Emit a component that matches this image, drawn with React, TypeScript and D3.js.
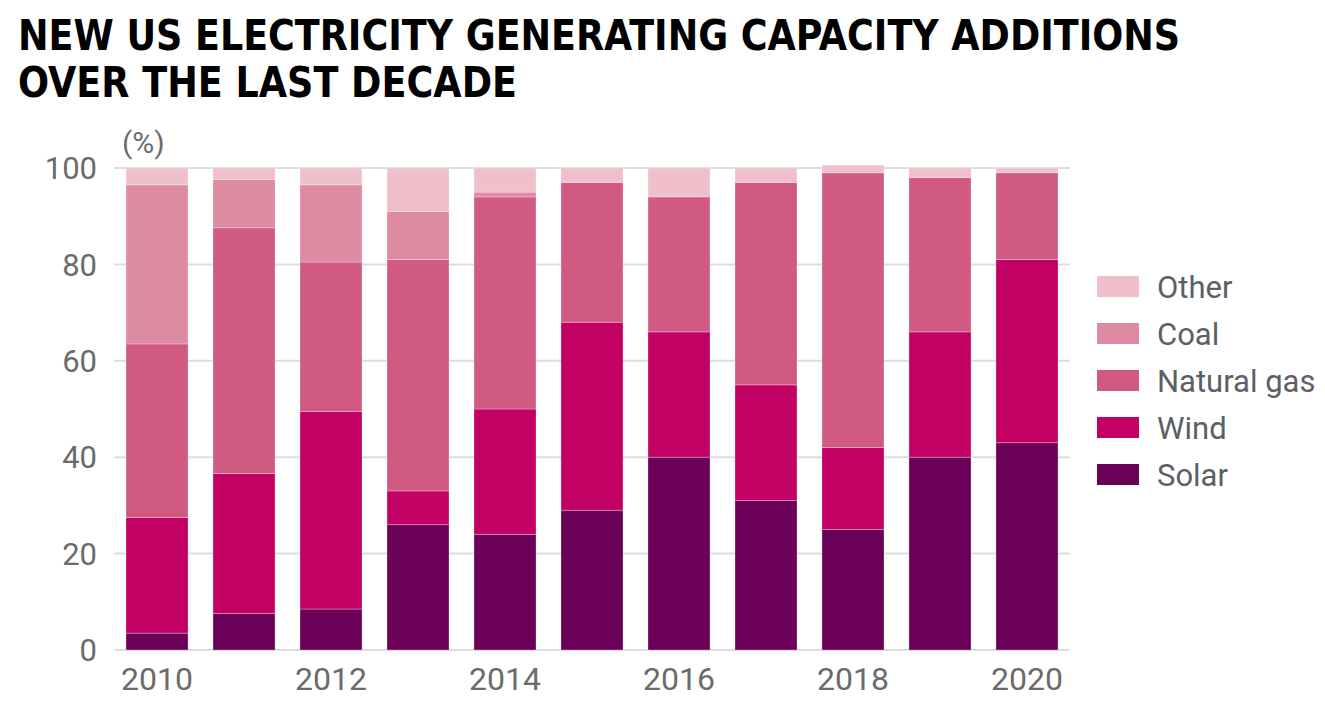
import React, { useEffect, useRef } from 'react';
import * as d3 from 'd3';

const years = ['2010', '2011', '2012', '2013', '2014', '2015', '2016', '2017', '2018', '2019', '2020'];
const solar = [3.5, 7.6, 8.5, 26, 24, 29, 40, 31, 25, 40, 43];
const wind = [24, 29, 41, 7, 26, 39, 26, 24, 17, 26, 38];
const naturalGas = [36, 51, 31, 48, 44, 29, 28, 42, 57, 32, 18];
const coal = [33, 10, 16, 10, 1, 0, 0, 0, 0, 0, 0];
const other = [3.5, 2.4, 3.5, 9, 5, 3, 6, 3, 1.6, 2, 1];

const seriesNames = ['Solar', 'Wind', 'Natural gas', 'Coal', 'Other'];
const seriesColors = ['#6a0058', '#c30063', '#d15a83', '#de8aa3', '#efbfca'];
const yTicks = [0, 20, 40, 60, 80, 100];
const xTickLabels = ['2010', '2012', '2014', '2016', '2018', '2020'];

const svgWidth = 1325, svgHeight = 720;
const labelFont = 'Roboto, "DejaVu Sans", sans-serif';
const titleFont = '"Liberation Sans Narrow", "DejaVu Sans Condensed", sans-serif';

function drawChart(node: SVGSVGElement) {
  const svg = d3.select(node);
  svg.selectAll('*').remove();

  const values = [solar, wind, naturalGas, coal, other];
  const rows = years.map((yr, i) => {
    const row: any = { year: yr };
    seriesNames.forEach((name, k) => { row[name] = values[k][i]; });
    return row;
  });

  const x = d3.scaleBand().domain(years).range([114, 1070]).paddingInner(0.287).paddingOuter(0.138);
  const y = d3.scaleLinear().domain([0, 100]).range([650, 168]);

  // title, two lines
  svg.append('text')
    .attr('x', 18).attr('y', 50)
    .attr('font-family', titleFont)
    .attr('font-weight', 'bold').attr('font-size', 42).attr('fill', '#000')
    .attr('textLength', 1162).attr('lengthAdjust', 'spacingAndGlyphs')
    .text('NEW US ELECTRICITY GENERATING CAPACITY ADDITIONS');
  svg.append('text')
    .attr('x', 18).attr('y', 97)
    .attr('font-family', titleFont)
    .attr('font-weight', 'bold').attr('font-size', 42).attr('fill', '#000')
    .attr('textLength', 499).attr('lengthAdjust', 'spacingAndGlyphs')
    .text('OVER THE LAST DECADE');

  // grid
  svg.append('g').selectAll('line').data(yTicks).join('line')
    .attr('x1', 114).attr('x2', 1070)
    .attr('y1', d => y(d)).attr('y2', d => y(d))
    .attr('stroke', '#dddddd').attr('stroke-width', 2);

  // y axis labels
  svg.append('g').selectAll('text').data(yTicks).join('text')
    .attr('x', 97).attr('y', d => y(d)).attr('dy', '0.36em')
    .attr('text-anchor', 'end')
    .attr('font-family', labelFont).attr('font-size', 31).attr('fill', '#6b6b6b')
    .text(d => d);

  svg.append('text')
    .attr('x', 122).attr('y', 153)
    .attr('font-family', labelFont).attr('font-size', 30).attr('fill', '#6b6b6b')
    .text('(%)');

  // stacked bars
  const stacked = d3.stack().keys(seriesNames)(rows);
  svg.append('g').selectAll('g').data(stacked).join('g')
    .attr('fill', (d, i) => seriesColors[i])
    .selectAll('rect').data(d => d).join('rect')
    .attr('x', (d: any) => x(d.data.year))
    .attr('width', x.bandwidth())
    .attr('y', d => y(d[1]))
    .attr('height', d => y(d[0]) - y(d[1]))
    .attr('stroke', '#ffffff').attr('stroke-opacity', 0.35).attr('stroke-width', 0.8);

  // x axis labels
  svg.append('g').selectAll('text').data(xTickLabels).join('text')
    .attr('x', d => x(d) + x.bandwidth() / 2).attr('y', 690)
    .attr('text-anchor', 'middle')
    .attr('font-family', labelFont).attr('font-size', 32).attr('fill', '#6b6b6b')
    .text(d => d);

  // legend, top to bottom: Other ... Solar
  const legendItems = seriesNames.map((n, i) => ({ name: n, color: seriesColors[i] })).reverse();
  const legend = svg.append('g').selectAll('g').data(legendItems).join('g')
    .attr('transform', (d, i) => `translate(1097,${276 + i * 47})`);
  legend.append('rect').attr('width', 42).attr('height', 21).attr('fill', d => d.color);
  legend.append('text')
    .attr('x', 60).attr('y', 10.5).attr('dy', '0.36em')
    .attr('font-family', labelFont).attr('font-size', 31).attr('fill', '#5b5f67')
    .text(d => d.name);
}

export default function App() {
  const ref = useRef<SVGSVGElement>(null);
  useEffect(() => {
    if (ref.current) drawChart(ref.current);
  }, []);
  return (
    <svg ref={ref} width={svgWidth} height={svgHeight}
      style={{ position: 'absolute', left: 0, top: 0, background: '#fff' }} />
  );
}
